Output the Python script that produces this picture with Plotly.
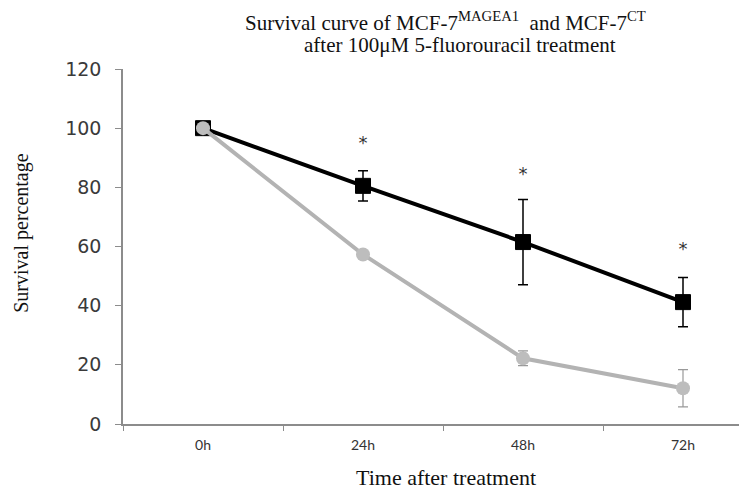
import plotly.graph_objects as go

categories = ["0h", "24h", "48h", "72h"]
ct_values = [100, 80.5, 61.5, 41.2]
ct_errors = [0, 5.1, 14.4, 8.3]
magea1_values = [100, 57.3, 22.2, 12.1]
magea1_errors = [0, 0.8, 2.5, 6.3]
star_categories = ["24h", "48h", "72h"]
star_levels = [94.5, 84, 58.7]

title_line1 = "Survival curve of MCF-7<sup>MAGEA1</sup>  and MCF-7<sup>CT</sup>"
title_line2 = "after 100μM 5-fluorouracil treatment"
x_title = "Time after treatment"
y_title = "Survival percentage"

fig = go.Figure()

fig.add_trace(go.Scatter(
    x=categories, y=ct_values, mode="lines+markers",
    line=dict(color="black", width=4),
    marker=dict(symbol="square", size=15, color="black", line=dict(color="black", width=1)),
    error_y=dict(type="data", array=ct_errors, visible=True, color="black", thickness=1.5, width=5),
    showlegend=False,
))
fig.add_trace(go.Scatter(
    x=categories, y=magea1_values, mode="lines+markers",
    line=dict(color="#b3b3b3", width=4),
    marker=dict(symbol="circle", size=14, color="#bdbdbd"),
    error_y=dict(type="data", array=magea1_errors, visible=True, color="#999999", thickness=1.2, width=5),
    showlegend=False,
))
fig.add_trace(go.Scatter(
    x=star_categories, y=star_levels, mode="text", text=["*"] * len(star_categories),
    textfont=dict(family="DejaVu Sans", size=18, color="#333333"),
    showlegend=False, hoverinfo="skip",
))

serif = "Liberation Serif"
fig.add_annotation(text=title_line1, xref="paper", yref="paper", x=0.523, y=1.135,
                   xanchor="center", yanchor="middle", showarrow=False,
                   font=dict(family=serif, size=21, color="#111111"))
fig.add_annotation(text=title_line2, xref="paper", yref="paper", x=0.547, y=1.068,
                   xanchor="center", yanchor="middle", showarrow=False,
                   font=dict(family=serif, size=21, color="#111111"))
fig.add_annotation(text=x_title, xref="paper", yref="paper", x=0.524, y=-0.152,
                   xanchor="center", yanchor="middle", showarrow=False,
                   font=dict(family=serif, size=22, color="#111111"))
fig.add_annotation(text=y_title, xref="paper", yref="paper", x=-0.166, y=0.538,
                   xanchor="center", yanchor="middle", showarrow=False, textangle=-90,
                   font=dict(family=serif, size=20, color="#111111"))

fig.update_layout(
    width=739, height=497,
    margin=dict(l=123, r=0, t=69, b=73),
    paper_bgcolor="white", plot_bgcolor="white",
    xaxis=dict(
        type="category", categoryorder="array", categoryarray=categories,
        range=[-0.5, 3.35], tickson="boundaries",
        showline=True, linecolor="#8c8c8c", linewidth=1.5,
        ticks="outside", ticklen=5, tickcolor="#8c8c8c", tickwidth=1,
        showgrid=False, zeroline=False, ticklabelstandoff=7,
        tickfont=dict(family="Lato", size=14, color="#333333"),
    ),
    yaxis=dict(
        range=[0, 120], tickvals=[0, 20, 40, 60, 80, 100, 120],
        showline=True, linecolor="#8c8c8c", linewidth=1.5,
        ticks="outside", ticklen=6, tickcolor="#8c8c8c", tickwidth=1,
        showgrid=False, zeroline=False, ticklabelstandoff=10,
        tickfont=dict(family="DejaVu Sans", size=19, color="#3a3a3a"),
    ),
)

fig.write_html("out.html")
